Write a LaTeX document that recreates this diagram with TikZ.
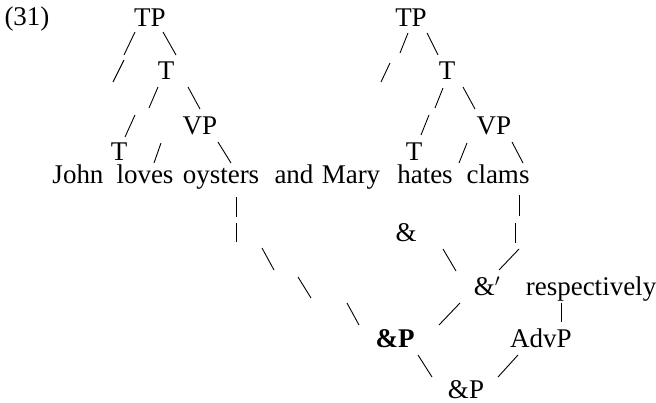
\documentclass[tikz,border=0pt]{standalone}
\usepackage{fontspec}
\setmainfont{Liberation Serif}
\usepackage{tikz}
\usetikzlibrary{positioning}

\tikzset{
  lbl/.style={anchor=base,inner sep=0pt,font=\fontsize{27}{32}\selectfont},
  brn/.style={line width=0.9pt}
}

\begin{document}
\begin{tikzpicture}[x=1pt,y=-1pt]
\useasboundingbox (0,0) rectangle (656,403);
% example number
\node[lbl] (num) at (27,26) {(31)};
% left tree
\node[lbl] (tpa) at (150,27) {TP};
\node[lbl] (ta) at (166,80) {T};
\node[lbl] (vpa) at (200,135) {VP};
\node[lbl,text depth=0pt] (tla) at (119,161) {T};
% right tree
\node[lbl] (tpb) at (411,27) {TP};
\node[lbl] (tb) at (447,80) {T};
\node[lbl] (vpb) at (494,135) {VP};
\node[lbl,text depth=0pt] (tlb) at (414,161) {T};
% the sentence
\foreach \wx/\wrd/\nm in {78/John/john,145/loves/loves,221/oysters/oysters,294/and/and,351/Mary/mary,425/hates/hates,498/clams/clams}
  {\node[lbl,text height=19pt] (\nm) at (\wx,184) {\wrd};}
% lower structure
\node[lbl] (amp) at (406,242) {\&};
\node[lbl] (ampbar) at (487,296) {\&$'$};
\node[lbl] (resp) at (591,296) {respectively};
\node[lbl,font=\fontsize{27}{32}\selectfont\bfseries] (ampp) at (395,348) {\&P};
\node[lbl] (advp) at (541,348) {AdvP};
\node[lbl] (amproot) at (466,398) {\&P};
% branches, typed as short strokes
\foreach \xa/\ya/\xb/\yb in {
  135/32/124/55, 124/60/113/82, 163/32/176/55,
  158/87/149/108, 135/115/125/137, 188/87/200/109,
  161/143/154/163, 218/142/231/163,
  408/33/400/53, 390/63/381/82, 427/33/438/55,
  443/88/435/108, 429/115/421/135, 463/87/475/109,
  467/143/459/163, 512/142/523/163,
  236/197/236/217, 236/223/236/242,
  262/248/274/270, 298/277/311/298, 347/303/359/325,
  519/195/519/216, 515/223/515/243,
  443/249/456/271, 519/249/499/270, 460/303/439/325,
  561/303/561/322, 418/355/432/377, 518/355/498/377}
  {\draw[brn] (\xa,\ya) -- (\xb,\yb);}
\end{tikzpicture}
\end{document}
